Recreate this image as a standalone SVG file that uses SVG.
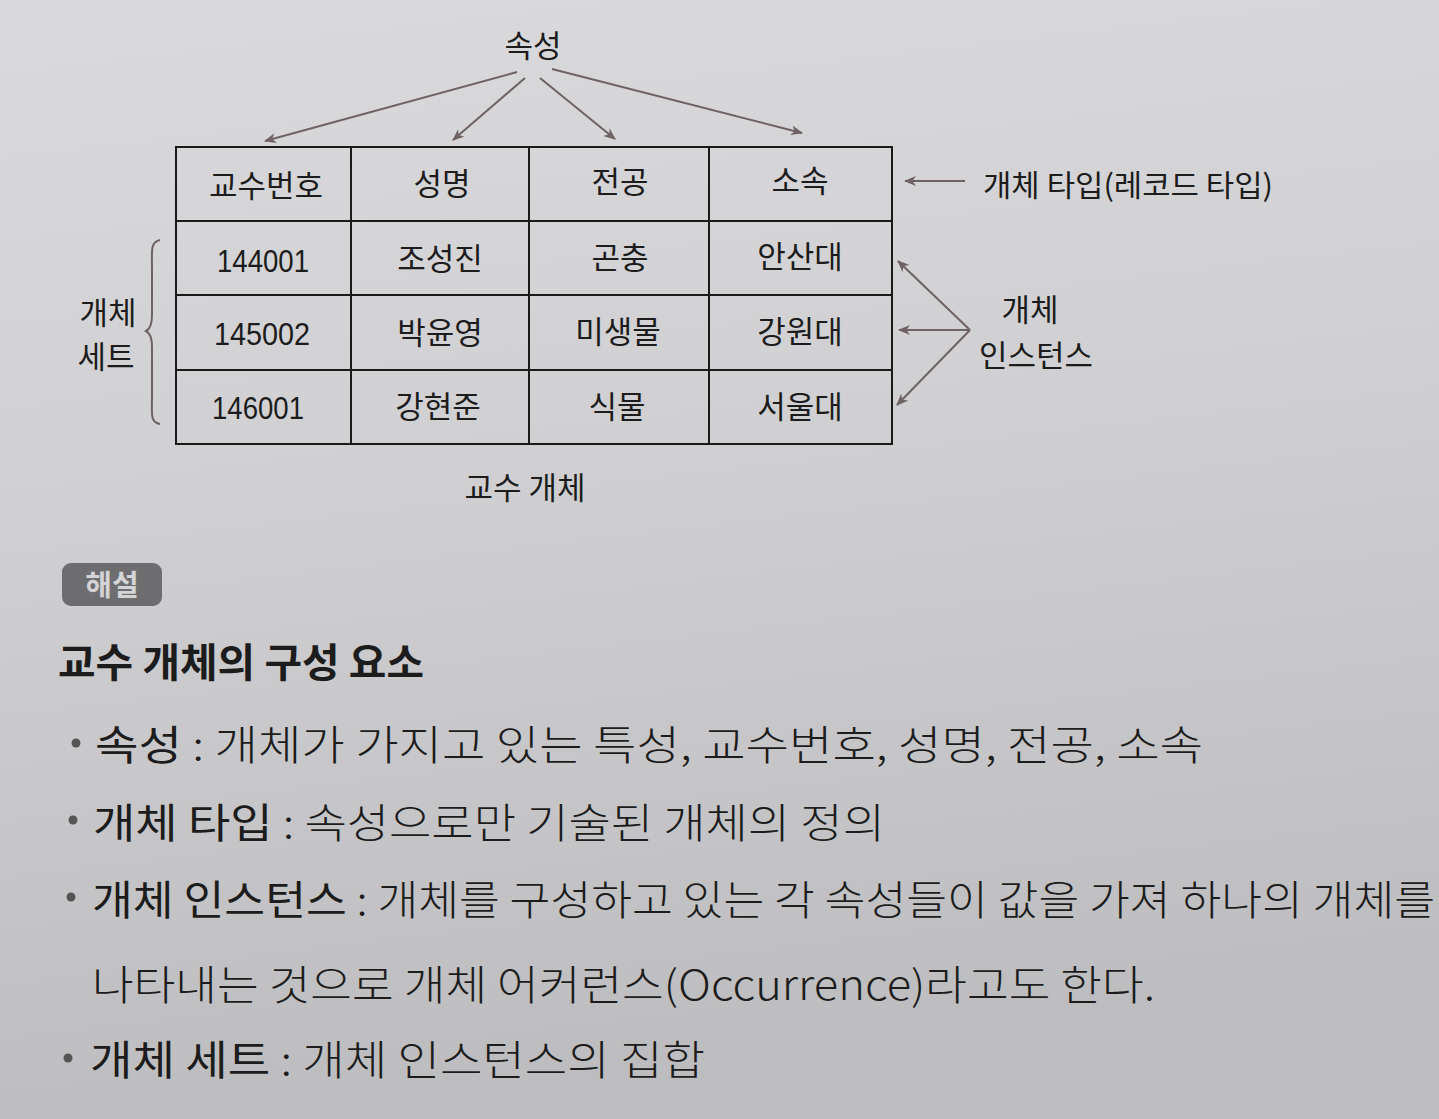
<svg xmlns="http://www.w3.org/2000/svg" width="1439" height="1119" viewBox="0 0 1439 1119">
<defs>
<linearGradient id="bg" x1="0" y1="0" x2="0.15" y2="1">
<stop offset="0" stop-color="#dadadc"/>
<stop offset="0.45" stop-color="#d0d0d2"/>
<stop offset="1" stop-color="#bdbdbf"/>
</linearGradient>
<marker id="ah" viewBox="0 0 12 10" refX="11" refY="5" markerWidth="12" markerHeight="10" markerUnits="userSpaceOnUse" orient="auto">
<path d="M0,0 L12,5 L0,10 L3.5,5 z" fill="#6e6262"/>
</marker>
<style>
text{font-family:"Noto Sans CJK KR","Noto Sans",sans-serif;fill:#1c1c1c}
.lbl{font-size:31px;text-anchor:middle}
.cell{font-size:31px;text-anchor:middle}
.num{font-family:"Liberation Sans","Noto Sans CJK KR",sans-serif;font-size:32px;text-anchor:middle}
.conn{stroke:#6e6262;stroke-width:2;fill:none;marker-end:url(#ah)}
.grid{stroke:#1a1a1a;stroke-width:2;fill:none}
.body{font-size:41px;font-weight:300}
.term{font-weight:400}
</style>
</defs>
<rect width="1439" height="1119" fill="url(#bg)"/>

<g id="attr-label"><text class="lbl" x="533" y="57">속성</text></g>

<g id="table">
<rect class="grid" x="176" y="147" width="716" height="297" fill="#d6d6d8"/>
<line class="grid" x1="176" y1="221" x2="892" y2="221"/>
<line class="grid" x1="176" y1="295" x2="892" y2="295"/>
<line class="grid" x1="176" y1="370" x2="892" y2="370"/>
<line class="grid" x1="351" y1="147" x2="351" y2="444"/>
<line class="grid" x1="529" y1="147" x2="529" y2="444"/>
<line class="grid" x1="709" y1="147" x2="709" y2="444"/>
</g>
<g id="header-row">
<text class="cell" x="266" y="197">교수번호</text>
<text class="cell" x="442" y="195">성명</text>
<text class="cell" x="620" y="193">전공</text>
<text class="cell" x="800" y="192">소속</text>
</g>
<g id="row1">
<text class="num" x="263" y="272" textLength="92" lengthAdjust="spacingAndGlyphs">144001</text>
<text class="cell" x="440" y="270">조성진</text>
<text class="cell" x="620" y="269">곤충</text>
<text class="cell" x="800" y="268">안산대</text>
</g>
<g id="row2">
<text class="num" x="262" y="345" textLength="96" lengthAdjust="spacingAndGlyphs">145002</text>
<text class="cell" x="440" y="344">박윤영</text>
<text class="cell" x="618" y="343">미생물</text>
<text class="cell" x="800" y="343">강원대</text>
</g>
<g id="row3">
<text class="num" x="258" y="419" textLength="92" lengthAdjust="spacingAndGlyphs">146001</text>
<text class="cell" x="438" y="418">강현준</text>
<text class="cell" x="617" y="418">식물</text>
<text class="cell" x="800" y="418">서울대</text>
</g>

<g id="entity-type-label"><text x="983" y="196" style="font-size:30px" textLength="290" lengthAdjust="spacingAndGlyphs">개체 타입(레코드 타입)</text></g>
<g id="entity-set-label">
<text class="lbl" x="108" y="324">개체</text>
<text class="lbl" x="106" y="368">세트</text>
<path d="M160,240 C150,242 152,252 152,270 L152,315 C152,325 150,329 146,331 C150,333 152,337 152,347 L152,398 C152,414 150,422 160,424" stroke="#6e6262" stroke-width="2" fill="none"/>
</g>
<g id="instance-label">
<text class="lbl" x="1030" y="321">개체</text>
<text class="lbl" x="1036" y="367">인스턴스</text>
</g>
<g id="caption"><text class="lbl" x="525" y="499">교수 개체</text></g>

<g id="connectors">
<line class="conn" x1="517" y1="72" x2="265" y2="141"/>
<line class="conn" x1="525" y1="78" x2="453" y2="140"/>
<line class="conn" x1="540" y1="78" x2="615" y2="139"/>
<line class="conn" x1="552" y1="69" x2="802" y2="133"/>
<line class="conn" x1="965" y1="181" x2="905" y2="181"/>
<line class="conn" x1="970" y1="330" x2="898" y2="261"/>
<line class="conn" x1="970" y1="330" x2="899" y2="330"/>
<line class="conn" x1="970" y1="330" x2="897" y2="405"/>
</g>

<g id="explanation">
<rect x="62" y="563" width="100" height="43" rx="9" fill="#6d6d6f"/>
<text x="112" y="596" style="font-size:29px;font-weight:700;fill:#d4d4d6;text-anchor:middle">해설</text>
<text x="58" y="677" style="font-size:40px;font-weight:700" textLength="366" lengthAdjust="spacingAndGlyphs">교수 개체의 구성 요소</text>
<circle cx="76" cy="743" r="4.5" fill="#555"/>
<text class="body" x="95" y="760" textLength="1108" lengthAdjust="spacingAndGlyphs"><tspan class="term">속성</tspan> : 개체가 가지고 있는 특성, 교수번호, 성명, 전공, 소속</text>
<circle cx="73" cy="820" r="4.5" fill="#555"/>
<text class="body" x="93" y="838" textLength="792" lengthAdjust="spacingAndGlyphs"><tspan class="term">개체 타입</tspan> : 속성으로만 기술된 개체의 정의</text>
<circle cx="71" cy="897" r="4.5" fill="#555"/>
<text class="body" x="92" y="915" textLength="1343" lengthAdjust="spacingAndGlyphs"><tspan class="term">개체 인스턴스</tspan> : 개체를 구성하고 있는 각 속성들이 값을 가져 하나의 개체를</text>
<text class="body" x="92" y="1000" textLength="1063" lengthAdjust="spacingAndGlyphs">나타내는 것으로 개체 어커런스(Occurrence)라고도 한다.</text>
<circle cx="68" cy="1058" r="4.5" fill="#555"/>
<text class="body" x="90" y="1075" textLength="615" lengthAdjust="spacingAndGlyphs"><tspan class="term">개체 세트</tspan> : 개체 인스턴스의 집합</text>
</g>
</svg>
